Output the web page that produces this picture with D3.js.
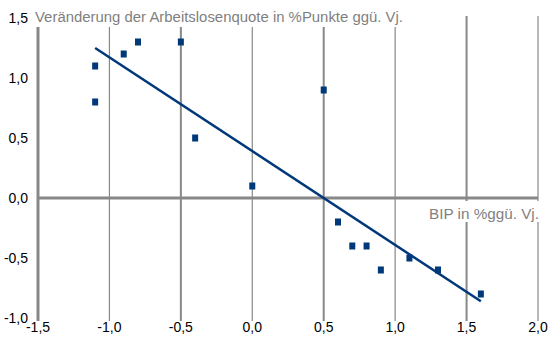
<!DOCTYPE html>
<html>
<head>
<meta charset="utf-8">
<script src="https://cdn.jsdelivr.net/npm/d3@7"></script>
<style>
  html, body { margin: 0; padding: 0; background: #fff; }
  svg { display: block; font-family: "Liberation Sans", Arial, sans-serif; }
</style>
</head>
<body>
<div id="chart"></div>
<script>
// Okun-style scatter: BIP growth vs. change in unemployment rate
const bip = [-1.1, -1.1, -0.9, -0.8, -0.5, -0.4, 0.0, 0.5, 0.6, 0.7, 0.8, 0.9, 1.1, 1.3, 1.6];
const alq = [1.1, 0.8, 1.2, 1.3, 1.3, 0.5, 0.1, 0.9, -0.2, -0.4, -0.4, -0.6, -0.5, -0.6, -0.8];
const trendX = [-1.1, 1.6];
const trendY = [1.25, -0.86];
const xTicks = [-1.5, -1.0, -0.5, 0.0, 0.5, 1.0, 1.5, 2.0];
const yTicks = [-1.0, -0.5, 0.0, 0.5, 1.0, 1.5];
const yTitle = "Veränderung der Arbeitslosenquote in %Punkte ggü. Vj.";
const xTitle = "BIP in %ggü. Vj.";

const width = 552, height = 354;
const grey = "#888888";
const blue = "#00387a";

const svg = d3.select("#chart").append("svg")
  .attr("width", width)
  .attr("height", height);

const x = d3.scaleLinear().domain([-1.5, 2.0]).range([38, 538]);
const y = d3.scaleLinear().domain([-1.0, 1.5]).range([318, 18]);

const locale = d3.formatLocale({decimal: ",", thousands: ".", grouping: [3], currency: ["", "€"], minus: "-"});
const fmt = locale.format(".1f");

// vertical gridlines (the -1.5 one doubles as y axis)
svg.append("g")
  .selectAll("line")
  .data(xTicks)
  .join("line")
  .attr("x1", d => x(d))
  .attr("x2", d => x(d))
  .attr("y1", y(1.5) - 2)
  .attr("y2", y(-1.0) + 3)
  .attr("stroke", grey)
  .attr("stroke-width", (d, i) => i === 0 ? 3 : (i % 2 === 0 ? 2 : 1.2));

// zero line
svg.append("line")
  .attr("x1", x(-1.5))
  .attr("x2", x(2.0))
  .attr("y1", y(0))
  .attr("y2", y(0))
  .attr("stroke", grey)
  .attr("stroke-width", 3);

// tick labels
svg.append("g")
  .selectAll("text")
  .data(xTicks)
  .join("text")
  .attr("x", d => x(d))
  .attr("y", 332)
  .attr("text-anchor", "middle")
  .attr("font-size", 14)
  .attr("fill", "#000")
  .text(d => fmt(d));

svg.append("g")
  .selectAll("text")
  .data(yTicks)
  .join("text")
  .attr("x", 28)
  .attr("y", d => y(d) + 5)
  .attr("text-anchor", "end")
  .attr("font-size", 14)
  .attr("fill", "#000")
  .text(d => fmt(d));

// axis titles sit on white boxes that hide the gridlines
svg.append("rect")
  .attr("x", 33).attr("y", 8)
  .attr("width", 372).attr("height", 19)
  .attr("fill", "#fff");
svg.append("text")
  .attr("x", 35)
  .attr("y", 22)
  .attr("font-size", 14)
  .attr("fill", "#7f7f7f")
  .attr("textLength", 368)
  .attr("lengthAdjust", "spacingAndGlyphs")
  .text(yTitle);

svg.append("rect")
  .attr("x", 427).attr("y", 201)
  .attr("width", 114).attr("height", 21)
  .attr("fill", "#fff");
svg.append("text")
  .attr("x", 429)
  .attr("y", 219)
  .attr("font-size", 14)
  .attr("fill", "#7f7f7f")
  .attr("textLength", 110)
  .attr("lengthAdjust", "spacingAndGlyphs")
  .text(xTitle);

// trend line
svg.append("path")
  .datum(d3.zip(trendX, trendY))
  .attr("d", d3.line().x(d => x(d[0])).y(d => y(d[1])))
  .attr("fill", "none")
  .attr("stroke", blue)
  .attr("stroke-width", 2.5);

// points
svg.append("g")
  .selectAll("rect")
  .data(d3.zip(bip, alq))
  .join("rect")
  .attr("x", d => x(d[0]) - 3)
  .attr("y", d => y(d[1]) - 3.5)
  .attr("width", 6)
  .attr("height", 7)
  .attr("fill", blue);
</script>
</body>
</html>
